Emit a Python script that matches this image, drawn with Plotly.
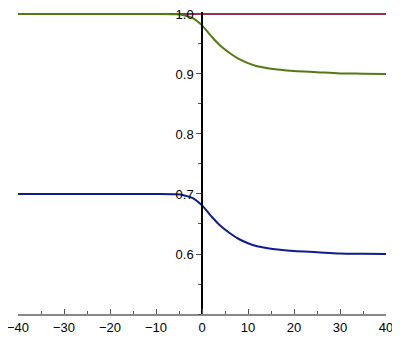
import plotly.graph_objects as go

# values
x_flat = [-40, 40]
red_y = [1.0, 1.0]

x_curve = [-40, -30, -20, -10, -6, -4, -2, 0, 2, 4, 6, 8, 10, 12, 14, 17, 20, 25, 30, 35, 40]
green_y = [1.0, 1.0, 1.0, 1.0, 0.9995, 0.998, 0.993, 0.981, 0.963, 0.947, 0.935, 0.925, 0.918, 0.913, 0.910, 0.907, 0.905, 0.903, 0.901, 0.9005, 0.900]
blue_y = [0.7, 0.7, 0.7, 0.7, 0.6995, 0.698, 0.693, 0.681, 0.663, 0.647, 0.635, 0.625, 0.618, 0.613, 0.610, 0.607, 0.605, 0.603, 0.601, 0.6005, 0.600]

x_ticks = [-40, -30, -20, -10, 0, 10, 20, 30, 40]
y_ticks = [0.6, 0.7, 0.8, 0.9, 1.0]

fig = go.Figure()
fig.add_trace(go.Scatter(x=x_flat, y=red_y, mode='lines',
                         line=dict(color='#9B3150', width=2)))
fig.add_trace(go.Scatter(x=x_curve, y=green_y, mode='lines', line_shape='spline',
                         line=dict(color='#557812', width=2)))
fig.add_trace(go.Scatter(x=x_curve, y=blue_y, mode='lines', line_shape='spline',
                         line=dict(color='#0E1C8C', width=2)))

# page body has an 8px margin, so the figure is a bit smaller than the window
# y range goes a hair above 1.0 so the top lines are not cut in half
fig.update_layout(
    width=384, height=328,
    margin=dict(l=10, r=6, t=4, b=22),
    plot_bgcolor='white', paper_bgcolor='white',
    showlegend=False,
    font=dict(family='Liberation Sans', size=13, color='black'),
    xaxis=dict(range=[-40, 40], tickvals=x_ticks,
               ticktext=[('\u2212' + str(-v)) if v < 0 else str(v) for v in x_ticks],
               automargin=False, ticklabeloverflow='allow',
               showgrid=False, zeroline=False,
               showline=True, linecolor='#888888', linewidth=2,
               ticks='inside', ticklen=5, tickcolor='#555555',
               minor=dict(dtick=5, ticks='inside', ticklen=3, tickcolor='#555555')),
    yaxis=dict(range=[0.5, 1.0033], tickvals=y_ticks, tickformat='.1f',
               anchor='free', position=0.5, automargin=False, ticklabeloverflow='allow',
               showgrid=False, zeroline=False,
               showline=True, linecolor='black', linewidth=1.5,
               ticks='outside', ticklen=5, tickcolor='#555555',
               minor=dict(dtick=0.05, ticks='outside', ticklen=3, tickcolor='#555555')),
)

fig.write_html("out.html")
